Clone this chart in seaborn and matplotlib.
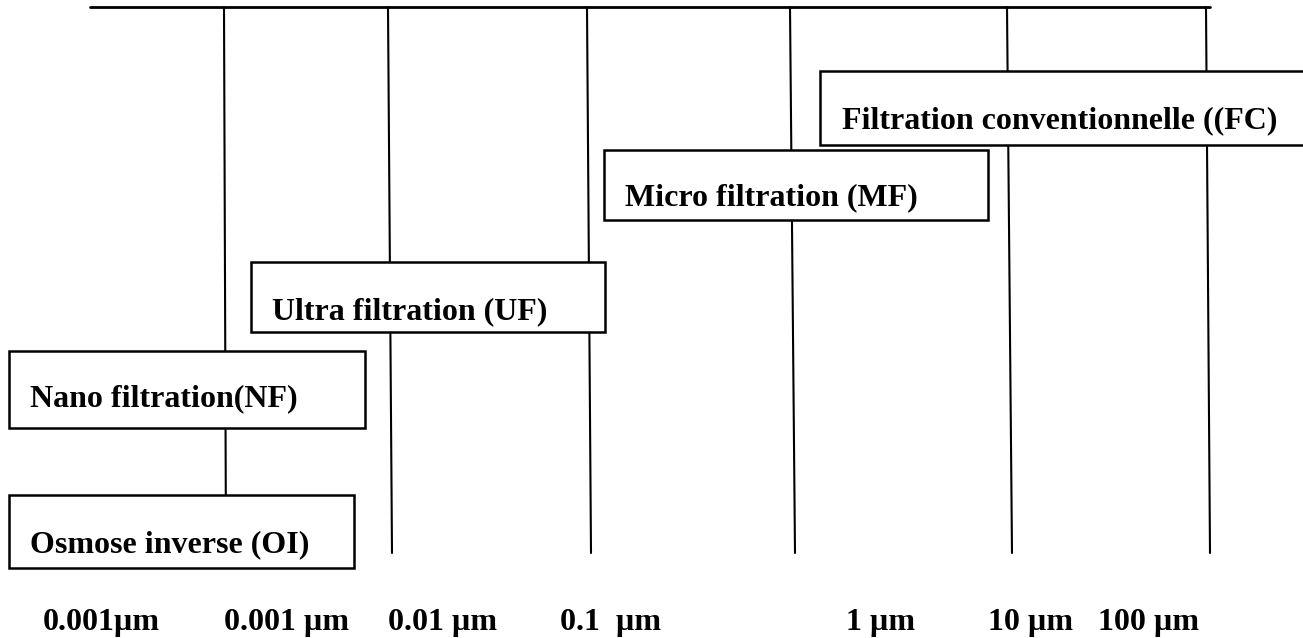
import matplotlib
matplotlib.use("Agg")
import matplotlib.pyplot as plt
from matplotlib.patches import Rectangle
import seaborn as sns
import pandas as pd

# ---- data (diagram geometry in pixel units of the 1303x638 canvas) ----
scale_labels = ["0.001µm", "0.001 µm", "0.01 µm", "0.1  µm", "1 µm", "10 µm", "100 µm"]
scale_label_x = [43, 224, 388, 560, 846, 988, 1098]
scale_label_y = 630

top_line_x = [90, 1210]
top_line_y = 7

vline_top_x = [224, 388, 587, 790, 1007, 1206]
vline_bottom_x = [226, 392, 591, 795, 1012, 1210]
vline_bottom_y = 553

box_labels = ["Osmose inverse (OI)", "Nano filtration(NF)", "Ultra filtration (UF)",
              "Micro filtration (MF)", "Filtration conventionnelle ((FC)"]
box_left = [9, 9, 251, 604, 820]
box_right = [354, 365, 605, 988, 1315]
box_top = [495, 351, 262, 150, 71]
box_bottom = [568, 428, 332, 220, 145]
text_left = [30, 30, 272, 625, 842]
text_baseline = [552, 406, 319, 205, 128]

# ---- figure ----
sns.set_theme(style="white")
plt.rcParams["font.family"] = ["Liberation Serif", "DejaVu Serif"]

fig = plt.figure(figsize=(13.03, 6.38), dpi=100)
ax = fig.add_axes([0, 0, 1, 1])
ax.set_xlim(0, 1303)
ax.set_ylim(638, 0)
ax.axis("off")

# line segments
rows = []
rows.append({"seg": "top", "x": top_line_x[0], "y": top_line_y})
rows.append({"seg": "top", "x": top_line_x[1], "y": top_line_y})
for i, (xt, xb) in enumerate(zip(vline_top_x, vline_bottom_x)):
    rows.append({"seg": f"v{i}", "x": xt, "y": top_line_y})
    rows.append({"seg": f"v{i}", "x": xb, "y": vline_bottom_y})
seg_df = pd.DataFrame(rows)

sns.lineplot(data=seg_df[seg_df.seg == "top"], x="x", y="y", color="black",
             linewidth=2.0, estimator=None, sort=False, ax=ax, legend=False)
sns.lineplot(data=seg_df[seg_df.seg != "top"], x="x", y="y", units="seg", color="black",
             linewidth=1.5, estimator=None, sort=False, ax=ax, legend=False)

# boxes
for lab, l, r, t, b, tx, ty in zip(box_labels, box_left, box_right, box_top, box_bottom,
                                   text_left, text_baseline):
    ax.add_patch(Rectangle((l, t), r - l, b - t, facecolor="white", edgecolor="black",
                           linewidth=1.8, zorder=3, clip_on=True))
    ax.text(tx, ty, lab, fontsize=23, fontweight="bold", ha="left", va="baseline",
            color="black", zorder=4)

# scale labels
for lab, x in zip(scale_labels, scale_label_x):
    ax.text(x, scale_label_y, lab, fontsize=23, fontweight="bold", ha="left",
            va="baseline", color="black", zorder=4)

ax.set_xlabel("")
ax.set_ylabel("")
fig.savefig("out.png", dpi=100, facecolor="white")
